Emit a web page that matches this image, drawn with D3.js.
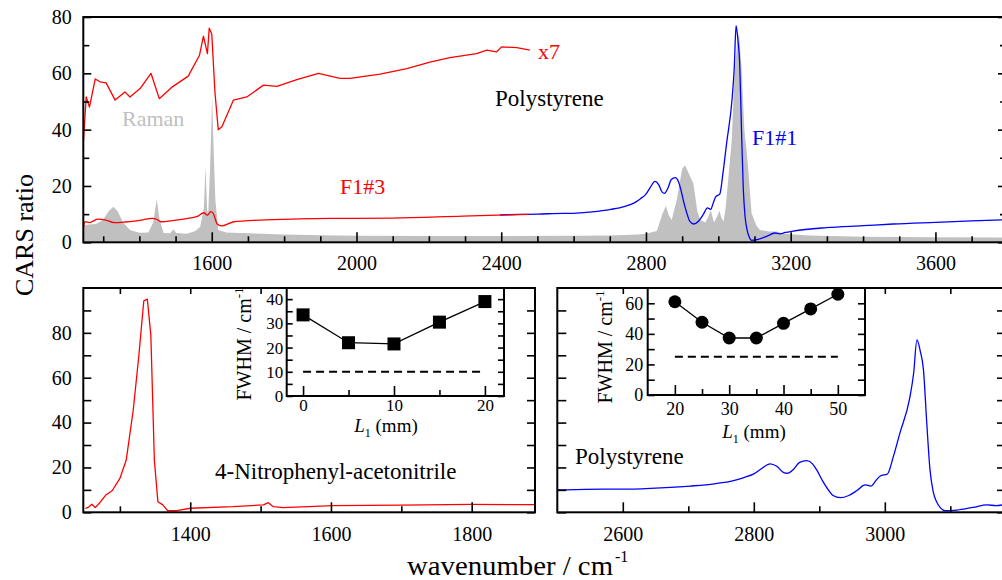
<!DOCTYPE html>
<html lang="en">
<head>
<meta charset="UTF-8">
<title>CARS ratio</title>
<script src="https://cdn.jsdelivr.net/npm/d3@7"></script>
<style>
    body { margin: 0; background: #fff; }
    svg, svg text { font-family: "Liberation Serif", "Times New Roman", serif; }
    svg { display: block; }
    .frame { fill: none; stroke: #000; stroke-width: 2; }
    .tick line { stroke: #000; stroke-width: 1.6; }
    .curve { fill: none; stroke-width: 1.3; stroke-linejoin: round; }
</style>
</head>
<body>
<svg id="chart" width="1002" height="580" font-family="Liberation Serif"></svg>
<script>
// ---- top panel: polystyrene, wavenumber (cm-1) / CARS ratio ----
const ramanWn  = [1245,1260,1280,1300,1315,1328,1340,1355,1374,1400,1425,1438,1448,1456,1467,1485,1494,1502,1531,1555,1568,1578,1583,1587,1590,1595,1601,1606,1610,1618,1640,1700,1800,1900,2000,2200,2400,2600,2700,2780,2800,2830,2845,2855,2862,2871,2885,2900,2908,2920,2931,2942,2950,2964,2972,2979,2984,2988,2996,3003,3008,3014,3020,3028,3037,3045,3052,3057,3064,3072,3080,3092,3105,3115,3140,3161,3180,3250,3400,3600,3795];
const ramanVal = [6.0,6.3,6.5,8,11,12.6,11,7,4.4,3.4,3.5,7,15.2,8,3.3,3.2,4.6,3.3,3.0,4,5.5,12,27,12,10,25,51.6,30,15,4.4,3.5,3.2,2.8,2.5,2.3,2.2,2.2,2.3,2.4,2.8,3.0,4.0,10,12.9,10,7.9,15,26,27.4,24,20.9,11,7.9,7,9,11.5,9,7,9,11.2,9,7.3,12,23.3,36.3,60,70.6,74.7,62,40,30,10.3,6,4.4,3.8,3.8,3.0,2.4,2.0,1.8,1.7];

const f13Wn  = [1245,1250,1262,1272,1284,1305,1330,1360,1385,1410,1436,1450,1460,1496,1530,1560,1578,1588,1597,1604,1615,1626,1661,1733,1844,1954,2100,2293,2476];
const f13Val = [5,7.3,7,7.5,8.2,8,7,7.2,7.5,8,8.5,8,7.3,7.8,8.4,9.2,10.5,9.6,10.9,10.3,6.5,5.8,7.3,7.9,8.3,8.5,8.6,9.3,9.9];

const f13x7Wn  = [1245,1253,1262,1278,1291,1308,1333,1360,1374,1402,1432,1455,1489,1535,1566,1577,1588,1593,1600,1609,1618,1628,1660,1697,1743,1780,1835,1895,1954,1982,2065,2139,2203,2258,2332,2360,2387,2401,2443,2479];
const f13x7Val = [35.2,51.6,48,58,57,56.6,50.5,53.4,51.6,54.6,60,51,55,59,66.4,73.2,67,76,74,53,40,41,50.5,51.6,55.8,55.4,57.8,60,58.2,58.2,59.7,61.7,64,65.6,67,68.2,67.6,69.4,69.1,68.2];

// F1#1 polystyrene (also the bottom-right panel)
const f11Wn  = [2397,2450,2500,2571,2600,2650,2703,2740,2769,2785,2800,2812,2825,2835,2845,2851,2860,2870,2881,2890,2896,2905,2915,2921,2932,2945,2958,2970,2979,2986,2993,3004,3013,3023,3038,3044,3049,3054,3059,3064,3069,3074,3079,3085,3092,3110,3135,3156,3170,3185,3207,3299,3400,3483,3600,3700,3795];
const f11Val = [9.7,9.9,10.0,10.3,10.3,10.8,11.7,12.7,14.1,15.5,17.1,19.5,21.6,20.5,17.8,17.4,19,22.3,23,21.5,18.9,14,9.5,7.5,6.5,7.5,9.8,12.2,11.7,14,16.2,17.1,24.8,35.3,50.9,62,76.9,72,63.5,40,18.9,9,4.7,2,0.7,1.0,2.2,3.3,3.0,3.5,4.0,5.2,5.9,6.5,7.1,7.6,8.0];

// ---- bottom-left panel: 4-Nitrophenyl-acetonitrile ----
const npWn  = [1251,1255,1260,1265,1272,1280,1289,1300,1309,1319,1327,1334,1339,1344,1349,1354,1361,1368,1381,1400,1461,1504,1511,1518,1532,1603,1700,1800,1890];
const npVal = [1.8,2.2,3.6,2.1,4.5,7.7,9.6,15.1,23.3,45.6,70,94.3,95,79,23.3,4.7,3.3,0.7,0.7,1.8,2.5,3.3,4.3,2.5,2.1,3.0,3.2,3.5,3.4];

// ---- insets: FWHM vs L1 ----
const insetL1a   = [0, 5, 10, 15, 20];
const insetFwhmA = [33.5, 22, 21.5, 30.5, 39];
const insetRefA  = 10;
const insetL1b   = [20, 25, 30, 35, 40, 45, 50];
const insetFwhmB = [61, 47.6, 37.3, 37.3, 46.9, 56.3, 65.9];
const insetRefB  = 25;

const FONT = '"Liberation Serif", "Times New Roman", serif';
const zip = (xs, ys) => xs.map((x, i) => [x, ys[i]]);

const svg = d3.select("#chart");
let clipId = 0;

function styleAxis(sel, size) {
    sel.attr("font-size", size).attr("font-family", FONT);
    sel.select(".domain").remove();
    sel.selectAll("text").attr("fill", "#000");
}

// inward ticks on every side asked for
function drawAxes(x, y, o) {
    const [x0, x1] = x.range(), [y0, y1] = y.range();
    const g = svg.append("g");
    const fs = o.fontSize || 20;
    // bottom
    g.append("g").attr("transform", `translate(0,${y0})`)
        .call(d3.axisBottom(x).tickValues(o.xMinor).tickSize(-o.xMinorLen).tickFormat(""))
        .call(s => styleAxis(s, fs));
    g.append("g").attr("transform", `translate(0,${y0})`)
        .call(d3.axisBottom(x).tickValues(o.xMajor).tickSize(-o.xMajorLen).tickPadding(o.xPad).tickFormat(d3.format("d")))
        .call(s => styleAxis(s, fs));
    if (o.topTicks) {
        g.append("g").attr("transform", `translate(0,${y1})`)
            .call(d3.axisTop(x).tickValues(o.xMinor.concat(o.xMajor)).tickSize(-o.xMinorLen).tickFormat(""))
            .call(s => styleAxis(s, fs));
    }
    // left
    g.append("g").attr("transform", `translate(${x0},0)`)
        .call(d3.axisLeft(y).tickValues(o.yMinor).tickSize(-o.yMinorLen).tickFormat(""))
        .call(s => styleAxis(s, fs));
    g.append("g").attr("transform", `translate(${x0},0)`)
        .call(d3.axisLeft(y).tickValues(o.yMajor).tickSize(-o.yMajorLen).tickPadding(o.yPad)
            .tickFormat(o.yLabels ? d3.format("d") : ""))
        .call(s => styleAxis(s, fs));
    // right
    g.append("g").attr("transform", `translate(${x1},0)`)
        .call(d3.axisRight(y).tickValues(o.yMinor).tickSize(-o.yMinorLen).tickFormat(""))
        .call(s => styleAxis(s, fs));
    g.append("g").attr("transform", `translate(${x1},0)`)
        .call(d3.axisRight(y).tickValues(o.yMajor).tickSize(-o.yMajorLen).tickFormat(""))
        .call(s => styleAxis(s, fs));
    svg.append("rect").attr("class", "frame")
        .attr("x", x0).attr("y", y1).attr("width", x1 - x0).attr("height", y0 - y1);
}

function clipFor(x, y) {
    const id = "clip" + (clipId++);
    const [x0, x1] = x.range(), [y0, y1] = y.range();
    svg.append("clipPath").attr("id", id).append("rect")
        .attr("x", x0).attr("y", y1).attr("width", x1 - x0).attr("height", y0 - y1);
    return svg.append("g").attr("clip-path", `url(#${id})`);
}

function label(txt, x, y, color, size) {
    return svg.append("text").attr("x", x).attr("y", y).attr("font-family", FONT)
        .attr("fill", color).attr("font-size", size).text(txt);
}

// ================= top panel =================
const xTop = d3.scaleLinear().domain([1245, 3795]).range([83.3, 1006]);
const yTop = d3.scaleLinear().domain([0, 80]).range([242.3, 17]);
const gTop = clipFor(xTop, yTop);

gTop.append("path")
    .datum(zip(ramanWn, ramanVal))
    .attr("fill", "#c0c0c0")
    .attr("d", d3.area().x(d => xTop(d[0])).y0(yTop(0)).y1(d => yTop(d[1])));

const lineTop = d3.line().x(d => xTop(d[0])).y(d => yTop(d[1]));
gTop.append("path").datum(zip(f11Wn, f11Val)).attr("class", "curve").attr("stroke", "#0000ff")
    .attr("d", lineTop.curve(d3.curveMonotoneX));
gTop.append("path").datum(zip(f13Wn, f13Val)).attr("class", "curve").attr("stroke", "#ff0000")
    .attr("d", lineTop.curve(d3.curveMonotoneX));
gTop.append("path").datum(zip(f13x7Wn, f13x7Val)).attr("class", "curve").attr("stroke", "#ff0000")
    .attr("d", lineTop.curve(d3.curveLinear));

drawAxes(xTop, yTop, {
    xMajor: d3.range(1600, 3601, 400), xMinor: d3.range(1300, 3800, 100).filter(v => (v - 1600) % 400 !== 0),
    xMajorLen: 10, xMinorLen: 6, xPad: 13.5,
    yMajor: d3.range(0, 81, 20), yMinor: d3.range(10, 80, 20),
    yMajorLen: 8, yMinorLen: 6, yPad: 11.5, yLabels: true
});

label("x7", 538, 58.5, "#ff0000", 22);
label("Polystyrene", 495, 106, "#000", 23);
label("Raman", 122, 126, "#c0c0c0", 22);
label("F1#3", 340, 194, "#ff0000", 22);
label("F1#1", 752, 145, "#0000ff", 22);

// ================= bottom-left panel =================
const xBL = d3.scaleLinear().domain([1248, 1890]).range([83.3, 535]);
const yB  = d3.scaleLinear().domain([0, 100]).range([512.3, 288]);
const gBL = clipFor(xBL, yB);
gBL.append("path").datum(zip(npWn, npVal)).attr("class", "curve").attr("stroke", "#ff0000")
    .attr("d", d3.line().x(d => xBL(d[0])).y(d => yB(d[1])));

drawAxes(xBL, yB, {
    xMajor: [1400, 1600, 1800], xMinor: [1300, 1500, 1700],
    xMajorLen: 10, xMinorLen: 6, xPad: 15, topTicks: true,
    yMajor: d3.range(0, 81, 20), yMinor: d3.range(10, 100, 20),
    yMajorLen: 8, yMinorLen: 8, yPad: 11.5, yLabels: true
});
label("4-Nitrophenyl-acetonitrile", 215, 479, "#000", 23);

// ================= bottom-right panel =================
const xBR = d3.scaleLinear().domain([2500, 3185]).range([557.3, 1006]);
const yBR = d3.scaleLinear().domain([0, 100]).range([512.3, 288]);
const gBR = clipFor(xBR, yBR);
gBR.append("path").datum(zip(f11Wn, f11Val)).attr("class", "curve").attr("stroke", "#0000ff")
    .attr("d", d3.line().curve(d3.curveMonotoneX).x(d => xBR(d[0])).y(d => yBR(d[1])));

drawAxes(xBR, yBR, {
    xMajor: [2600, 2800, 3000], xMinor: [2700, 2900, 3100],
    xMajorLen: 10, xMinorLen: 6, xPad: 15, topTicks: true,
    yMajor: d3.range(0, 81, 20), yMinor: d3.range(10, 100, 20),
    yMajorLen: 9, yMinorLen: 9, yPad: 11.5, yLabels: false
});
label("Polystyrene", 575, 464, "#000", 23);

// ================= insets =================
function inset(x, y, xs, ys, ref, marker, o) {
    const [x0, x1] = x.range(), [y0, y1] = y.range();
    svg.append("rect").attr("x", x0).attr("y", y1).attr("width", x1 - x0).attr("height", y0 - y1).attr("fill", "#fff");
    drawAxes(x, y, o);
    svg.append("line")
        .attr("x1", x(xs[0])).attr("x2", x(xs[xs.length - 1]))
        .attr("y1", y(ref)).attr("y2", y(ref))
        .attr("stroke", "#000").attr("stroke-width", 2).attr("stroke-dasharray", "8,5");
    const pts = zip(xs, ys);
    svg.append("path").datum(pts).attr("fill", "none").attr("stroke", "#000").attr("stroke-width", 1.3)
        .attr("d", d3.line().x(d => x(d[0])).y(d => y(d[1])));
    if (marker === "square") {
        svg.selectAll(null).data(pts).join("rect")
            .attr("x", d => x(d[0]) - 6.5).attr("y", d => y(d[1]) - 6.5)
            .attr("width", 13).attr("height", 13).attr("fill", "#000");
    } else {
        svg.selectAll(null).data(pts).join("circle")
            .attr("cx", d => x(d[0])).attr("cy", d => y(d[1])).attr("r", 6.5).attr("fill", "#000");
    }
}

function fwhmLabel(cx, cy) {
    const t = svg.append("text").attr("transform", `translate(${cx},${cy}) rotate(-90)`)
        .attr("text-anchor", "middle").attr("font-size", 20).attr("font-family", FONT);
    t.append("tspan").text("FWHM / cm");
    t.append("tspan").attr("font-size", 13).attr("dy", -8).text("-1");
}

function l1Label(cx, y) {
    const t = svg.append("text").attr("x", cx).attr("y", y).attr("text-anchor", "middle")
        .attr("font-size", 19).attr("font-family", FONT);
    t.append("tspan").attr("font-style", "italic").text("L");
    t.append("tspan").attr("font-size", 12).attr("dy", 5).text("1");
    t.append("tspan").attr("dy", -5).text(" (mm)");
}

const xIA = d3.scaleLinear().domain([-1.8, 22.1]).range([286.7, 504]);
const yIA = d3.scaleLinear().domain([0, 44.6]).range([396, 288]);
inset(xIA, yIA, insetL1a, insetFwhmA, insetRefA, "square", {
    fontSize: 17,
    xMajor: [0, 10, 20], xMinor: [5, 15], xMajorLen: 10, xMinorLen: 6, xPad: 3,
    yMajor: d3.range(0, 41, 10), yMinor: d3.range(5, 45, 10), yMajorLen: 6, yMinorLen: 6, yPad: 3.5, yLabels: true
});
fwhmLabel(251, 344);
l1Label(386, 432);

const xIB = d3.scaleLinear().domain([15, 55]).range([647.7, 865]);
const yIB = d3.scaleLinear().domain([0, 70]).range([395, 288]);
inset(xIB, yIB, insetL1b, insetFwhmB, insetRefB, "circle", {
    fontSize: 18,
    xMajor: [20, 30, 40, 50], xMinor: [25, 35, 45], xMajorLen: 10, xMinorLen: 6, xPad: 7,
    yMajor: d3.range(0, 61, 20), yMinor: d3.range(10, 70, 20), yMajorLen: 7, yMinorLen: 7, yPad: 4.5, yLabels: true
});
fwhmLabel(612, 347);
l1Label(754, 438);

// ================= shared axis titles =================
svg.append("text").attr("transform", "translate(33,235) rotate(-90)").attr("font-family", FONT)
    .attr("text-anchor", "middle").attr("font-size", 26).text("CARS ratio");

svg.append("text").attr("x", 407).attr("y", 575).attr("font-size", 27).attr("font-family", FONT)
    .attr("textLength", 206).attr("lengthAdjust", "spacingAndGlyphs").text("wavenumber / cm");
svg.append("text").attr("x", 615).attr("y", 562).attr("font-size", 16).attr("font-family", FONT).text("-1");
</script>
</body>
</html>
